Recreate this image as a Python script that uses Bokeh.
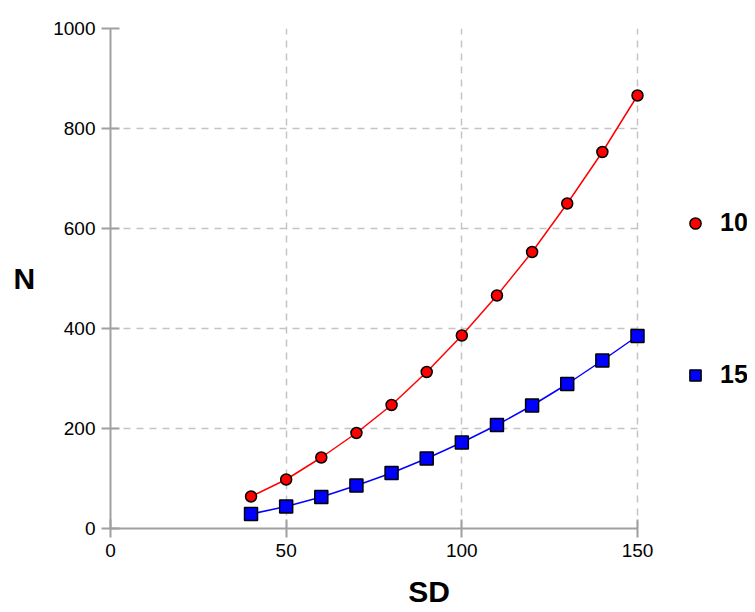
from bokeh.plotting import figure
from bokeh.models import Range1d, Legend, LegendItem, FixedTicker, BoxAnnotation
from bokeh.embed import file_html
from bokeh.resources import INLINE

sd = [40, 50, 60, 70, 80, 90, 100, 110, 120, 130, 140, 150]
n_10 = [64, 98, 142, 191, 247, 313, 386, 466, 553, 650, 753, 866]
n_15 = [29, 44, 63, 86, 111, 140, 172, 207, 246, 289, 336, 385]
x_ticks = [0, 50, 100, 150]
y_ticks = [0, 200, 400, 600, 800, 1000]
series_labels = ["10", "15"]

# layout (pixels)
W, H = 747, 610
LEFT, TOP = 110, 28
FRAME_H = 500
DATA_PX = 527  # width of the data area (0..150)
frame_px = W - LEFT
x_end = x_ticks[-1] * frame_px / DATA_PX

p = figure(width=W, height=H, output_backend="svg", toolbar_location=None,
           x_range=Range1d(0, x_end), y_range=Range1d(0, 1000),
           min_border_left=LEFT, min_border_right=0, min_border_top=TOP,
           min_border_bottom=H - TOP - FRAME_H)
p.outline_line_color = None
p.background_fill_color = "white"

for ax, ticks in ((p.xaxis, x_ticks), (p.yaxis, y_ticks)):
    ax.ticker = FixedTicker(ticks=ticks)
    ax.axis_line_color = "#a0a0a0"
    ax.axis_line_width = 2
    ax.major_tick_line_color = "#a0a0a0"
    ax.major_tick_line_width = 2
    ax.major_tick_out = 9
    ax.major_tick_in = 9
    ax.minor_tick_line_color = None
    ax.major_label_text_font = "Liberation Sans"
    ax.major_label_text_font_size = "19px"
    ax.major_label_text_color = "black"
    ax.axis_label_text_font = "Liberation Sans"
    ax.axis_label_text_font_size = "30px"
    ax.axis_label_text_font_style = "bold"
    ax.axis_label_text_color = "black"

p.xaxis.bounds = (x_ticks[0], x_ticks[-1])
p.xaxis.axis_label = "SD"
p.xaxis.major_label_standoff = 6
p.xaxis.axis_label_standoff = 15
p.yaxis.axis_label = "N"
p.yaxis.major_label_standoff = 6
p.yaxis.axis_label_orientation = "horizontal"
p.yaxis.axis_label_standoff = 15

for g in (p.xgrid, p.ygrid):
    g.grid_line_color = "#c4c4c4"
    g.grid_line_dash = "7 6"
    g.grid_line_width = 1.5

# blank out the area right of the data region (legend area), under the glyphs
cover = BoxAnnotation(left=x_ticks[-1] + 0.45, fill_color="white", fill_alpha=1,
                      line_color=None, level="underlay")
p.add_layout(cover)

p.line(sd, n_10, line_color="#ff0000", line_width=1.5)
p.line(sd, n_15, line_color="#0000ff", line_width=1.5)
r1 = p.scatter(sd, n_10, marker="circle", size=11, fill_color="#ff0000",
               line_color="black", line_width=1.5)
r2 = p.scatter(sd, n_15, marker="square", size=13, fill_color="#0000ff",
               line_color="black", line_width=1.5)

lg = Legend(items=[LegendItem(label=series_labels[0], renderers=[r1]),
                   LegendItem(label=series_labels[1], renderers=[r2])],
            location=(571, 139), orientation="vertical", spacing=123,
            border_line_color=None, background_fill_alpha=0, padding=0, margin=0,
            glyph_width=28, glyph_height=28, label_height=28, label_standoff=11,
            label_text_font="Liberation Sans", label_text_font_size="25px",
            label_text_font_style="bold", label_text_color="black")
p.add_layout(lg, "center")

open("out.html", "w").write(file_html(p, INLINE))
